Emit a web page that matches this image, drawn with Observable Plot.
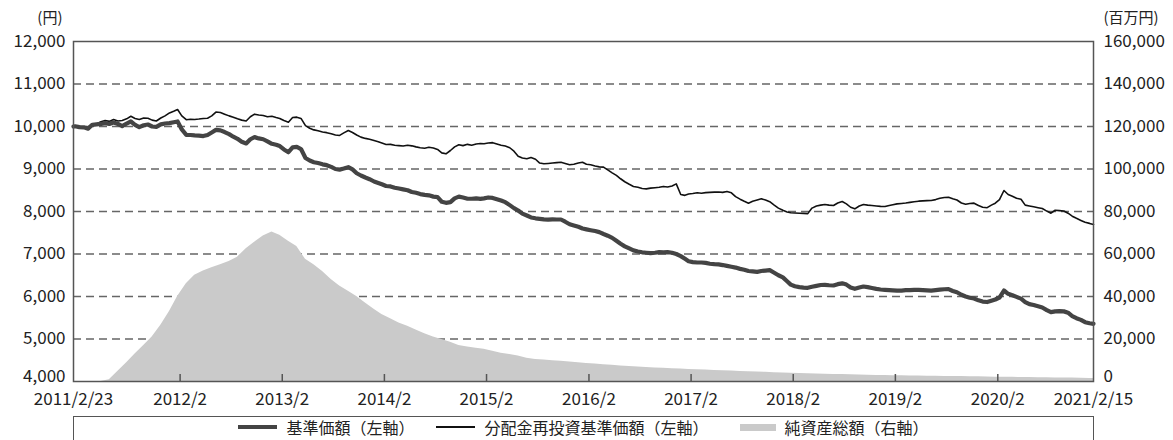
<!DOCTYPE html>
<html><head><meta charset="utf-8">
<script src="https://cdn.jsdelivr.net/npm/d3@7"></script>
<script src="https://cdn.jsdelivr.net/npm/@observablehq/plot@0.6"></script>
<style>
body{margin:0;background:#fff;font-family:"Noto Sans CJK JP","Noto Sans",sans-serif;overflow:hidden;}
#wrap{position:relative;width:1173px;height:440px;}
#wrap svg{position:absolute;left:0;top:0;}
#legend{position:absolute;left:73px;top:416px;width:1021px;height:30px;border:1.5px solid #555;box-sizing:border-box;display:flex;justify-content:center;align-items:flex-start;padding-top:2px;font-size:16px;line-height:16px;color:#222;}
#legend .it{display:flex;align-items:center;white-space:nowrap;}
#legend .sw{display:inline-block;margin-right:9px;}
</style>
</head><body>
<div id="wrap"></div>
<script>
// ---- data ----
const lineDates = [
"2011-02-23",
"2011-03-01","2011-03-16","2011-04-01","2011-04-16","2011-05-01","2011-05-16","2011-06-01","2011-06-16","2011-07-01","2011-07-16","2011-08-01","2011-08-16","2011-09-01","2011-09-16","2011-10-01","2011-10-16","2011-11-01","2011-11-16","2011-12-01","2011-12-16",
"2012-01-01","2012-01-16","2012-02-01","2012-02-16","2012-03-01","2012-03-16","2012-04-01","2012-04-16","2012-05-01","2012-05-16","2012-06-01","2012-06-16","2012-07-01","2012-07-16","2012-08-01","2012-08-16","2012-09-01","2012-09-16","2012-10-01","2012-10-16","2012-11-01","2012-11-16","2012-12-01","2012-12-16",
"2013-01-01","2013-01-16","2013-02-01","2013-02-16","2013-03-01","2013-03-16","2013-04-01","2013-04-16","2013-05-01","2013-05-16","2013-06-01","2013-06-16","2013-07-01","2013-07-16","2013-08-01","2013-08-16","2013-09-01","2013-09-16","2013-10-01","2013-10-16","2013-11-01","2013-11-16","2013-12-01","2013-12-16",
"2014-01-01","2014-01-16","2014-02-01","2014-02-16","2014-03-01","2014-03-16","2014-04-01","2014-04-16","2014-05-01","2014-05-16","2014-06-01","2014-06-16","2014-07-01","2014-07-16","2014-08-01","2014-08-16","2014-09-01","2014-09-16","2014-10-01","2014-10-16","2014-11-01","2014-11-16","2014-12-01","2014-12-16",
"2015-01-01","2015-01-16","2015-02-01","2015-02-16","2015-03-01","2015-03-16","2015-04-01","2015-04-16","2015-05-01","2015-05-16","2015-06-01","2015-06-16","2015-07-01","2015-07-16","2015-08-01","2015-08-16","2015-09-01","2015-09-16","2015-10-01","2015-10-16","2015-11-01","2015-11-16","2015-12-01","2015-12-16",
"2016-01-01","2016-01-16","2016-02-01","2016-02-16","2016-03-01","2016-03-16","2016-04-01","2016-04-16","2016-05-01","2016-05-16","2016-06-01","2016-06-16","2016-07-01","2016-07-16","2016-08-01","2016-08-16","2016-09-01","2016-09-16","2016-10-01","2016-10-16","2016-11-01","2016-11-16","2016-12-01","2016-12-16",
"2017-01-01","2017-01-16","2017-02-01","2017-02-16","2017-03-01","2017-03-16","2017-04-01","2017-04-16","2017-05-01","2017-05-16","2017-06-01","2017-06-16","2017-07-01","2017-07-16","2017-08-01","2017-08-16","2017-09-01","2017-09-16","2017-10-01","2017-10-16","2017-11-01","2017-11-16","2017-12-01","2017-12-16",
"2018-01-01","2018-01-16","2018-02-01","2018-02-16","2018-03-01","2018-03-16","2018-04-01","2018-04-16","2018-05-01","2018-05-16","2018-06-01","2018-06-16","2018-07-01","2018-07-16","2018-08-01","2018-08-16","2018-09-01","2018-09-16","2018-10-01","2018-10-16","2018-11-01","2018-11-16","2018-12-01","2018-12-16",
"2019-01-01","2019-01-16","2019-02-01","2019-02-16","2019-03-01","2019-03-16","2019-04-01","2019-04-16","2019-05-01","2019-05-16","2019-06-01","2019-06-16","2019-07-01","2019-07-16","2019-08-01","2019-08-16","2019-09-01","2019-09-16","2019-10-01","2019-10-16","2019-11-01","2019-11-16","2019-12-01","2019-12-16",
"2020-01-01","2020-01-16","2020-02-01","2020-02-16","2020-03-01","2020-03-16","2020-04-01","2020-04-16","2020-05-01","2020-05-16","2020-06-01","2020-06-16","2020-07-01","2020-07-16","2020-08-01","2020-08-16","2020-09-01","2020-09-16","2020-10-01","2020-10-16","2020-11-01","2020-11-16","2020-12-01","2020-12-16",
"2021-01-01","2021-01-16","2021-02-01","2021-02-15"
];
// 基準価額（円）
const navBase = [
10000, 10005,9985, 9980,9950, 10040,10050, 10060,10080, 10060,10095, 10060,10010, 10070,10118, 10040,9985, 10030,10047, 10000,9990,
10050,10070, 10080,10100, 10118,9930, 9805,9800, 9790,9785, 9775,9800, 9860,9920, 9910,9870, 9820,9760, 9710,9640, 9600,9700, 9750,9720,
9700,9650, 9593,9570, 9540,9460, 9395,9510, 9520,9470, 9260,9200, 9160,9140, 9110,9090, 9050,9000, 8985,9010, 9043,8990, 8900,8847,
8800,8760, 8706,8670, 8640,8600, 8590,8560, 8540,8520, 8500,8460, 8440,8410, 8392,8380, 8350,8337, 8230,8204, 8220,8310, 8350,8330,
8300,8300, 8310,8298, 8310,8330, 8320,8290, 8258,8220, 8150,8080, 8023,7950, 7906,7860, 7840,7828, 7815,7810, 7815,7812, 7812,7760,
7700,7671, 7640,7600, 7580,7560, 7540,7514, 7470,7430, 7380,7310, 7240,7180, 7130,7085, 7060,7040, 7030,7020, 7030,7045, 7040,7043,
7030,7000, 6950,6887, 6830,6810, 6800,6800, 6790,6770, 6760,6755, 6740,6720, 6700,6680, 6650,6630, 6600,6590, 6580,6600, 6610,6620,
6560,6500, 6450,6360, 6280,6240, 6220,6210, 6205,6230, 6250,6270, 6275,6265, 6259,6290, 6310,6280, 6210,6180, 6210,6235, 6220,6200,
6180,6165, 6157,6150, 6145,6140, 6140,6150, 6150,6155, 6157,6150, 6145,6140, 6150,6160, 6170,6172, 6130,6100, 6040,6000, 5970,5953,
5910,5880, 5870,5900, 5930,5976, 6141,6063, 6030,5990, 5950,5870, 5820,5800, 5770,5740, 5680,5631, 5650,5655, 5650,5620, 5540,5490,
5450,5396, 5370,5357
];
// 分配金再投資基準価額（円）
const navReinvest = [
10000, 10010,9990, 9985,9960, 10050,10060, 10110,10140, 10120,10165, 10130,10140, 10180,10240, 10190,10165, 10200,10195, 10150,10130,
10200,10250, 10320,10360, 10400,10250, 10160,10170, 10165,10175, 10190,10195, 10250,10340, 10330,10290, 10250,10220, 10180,10150, 10130,10230, 10290,10270,
10260,10230, 10240,10210, 10190,10140, 10100,10210, 10220,10190, 10020,9960, 9920,9900, 9870,9855, 9830,9800, 9790,9850, 9905,9860, 9800,9750,
9720,9700, 9670,9640, 9610,9575, 9580,9560, 9550,9540, 9560,9545, 9520,9500, 9490,9510, 9495,9460, 9380,9357, 9435,9520, 9570,9550,
9580,9560, 9590,9600, 9593,9610, 9620,9590, 9560,9540, 9500,9420, 9300,9260, 9240,9270, 9230,9140, 9122,9130, 9140,9150, 9160,9130,
9100,9110, 9140,9160, 9110,9100, 9070,9050, 9043,8980, 8910,8850, 8770,8700, 8640,8590, 8570,8540, 8533,8550, 8560,8570, 8590,8575,
8600,8650, 8400,8380, 8410,8423, 8440,8430, 8445,8450, 8455,8460, 8450,8470, 8440,8350, 8290,8240, 8196,8240, 8270,8298, 8270,8230,
8150,8080, 8030,7990, 7970,7965, 7960,7955, 7950,8080, 8130,8150, 8165,8150, 8140,8200, 8235,8180, 8100,8063, 8130,8165, 8150,8140,
8130,8120, 8118,8140, 8160,8180, 8190,8200, 8215,8230, 8243,8250, 8255,8258, 8280,8310, 8330,8337, 8300,8270, 8200,8170, 8190,8196,
8140,8100, 8090,8150, 8196,8280, 8494,8400, 8360,8310, 8290,8150, 8130,8110, 8090,8070, 8010,7960, 8030,8020, 8010,7960, 7890,7840,
7790,7745, 7720,7694
];
const assetDates = [
"2011-02-23","2011-03-01","2011-04-01","2011-05-01","2011-06-01","2011-07-01","2011-08-01","2011-09-01","2011-10-01","2011-11-01","2011-12-01",
"2012-01-01","2012-02-01","2012-03-01","2012-04-01","2012-05-01","2012-06-01","2012-07-01","2012-08-01","2012-09-01","2012-10-01","2012-11-01","2012-12-01",
"2013-01-01","2013-02-01","2013-03-01","2013-04-01","2013-05-01","2013-06-01","2013-07-01","2013-08-01","2013-09-01","2013-10-01","2013-11-01","2013-12-01",
"2014-01-01","2014-02-01","2014-03-01","2014-04-01","2014-05-01","2014-06-01","2014-07-01","2014-08-01","2014-09-01","2014-10-01","2014-11-01","2014-12-01",
"2015-01-01","2015-02-01","2015-03-01","2015-04-01","2015-05-01","2015-06-01","2015-07-01","2015-08-01","2015-09-01","2015-10-01","2015-11-01","2015-12-01",
"2016-01-01","2016-02-01","2016-03-01","2016-04-01","2016-05-01","2016-06-01","2016-07-01","2016-08-01","2016-09-01","2016-10-01","2016-11-01","2016-12-01",
"2017-01-01","2017-02-01","2017-03-01","2017-04-01","2017-05-01","2017-06-01","2017-07-01","2017-08-01","2017-09-01","2017-10-01","2017-11-01","2017-12-01",
"2018-01-01","2018-02-01","2018-03-01","2018-04-01","2018-05-01","2018-06-01","2018-07-01","2018-08-01","2018-09-01","2018-10-01","2018-11-01","2018-12-01",
"2019-01-01","2019-02-01","2019-03-01","2019-04-01","2019-05-01","2019-06-01","2019-07-01","2019-08-01","2019-09-01","2019-10-01","2019-11-01","2019-12-01",
"2020-01-01","2020-02-01","2020-03-01","2020-04-01","2020-05-01","2020-06-01","2020-07-01","2020-08-01","2020-09-01","2020-10-01","2020-11-01","2020-12-01",
"2021-01-01","2021-02-01","2021-02-15"
];
// 純資産総額（百万円）
const netAssets = [
0,0,0,0,0,800,4800,8800,13000,17000,21000,
26500,33000,40000,46000,50000,52000,53500,55000,56500,58500,62500,65500,
68500,70300,68800,66000,63500,57500,55000,51800,48000,45000,42500,40000,
37000,34000,31500,29500,27500,26000,24200,22500,21000,19800,18500,17000,
16200,15700,15200,14200,13300,12700,12000,10900,10400,10100,9800,9500,
9200,8800,8500,8200,7900,7600,7300,7050,6800,6600,6400,6200,
6000,5850,5700,5550,5400,5200,5050,4900,4750,4600,4450,4300,
4150,4000,3850,3750,3650,3550,3450,3350,3250,3150,3050,2950,
2850,2800,2700,2650,2600,2550,2500,2450,2400,2350,2300,2250,
2200,2100,2000,2000,1950,1900,1850,1800,1750,1700,1650,1600,
1500,1450,1400
];
const xTickDates = ["2011-02-23","2012-03-10","2013-03-10","2014-03-10","2015-03-10","2016-03-10","2017-03-10","2018-03-10","2019-03-10","2020-03-10","2021-02-15"];
const xTickLabels = ["2011/2/23","2012/2","2013/2","2014/2","2015/2","2016/2","2017/2","2018/2","2019/2","2020/2","2021/2/15"];
const leftTicks = [4000,5000,6000,7000,8000,9000,10000,11000,12000];
const rightTicks = [0,20000,40000,60000,80000,100000,120000,140000,160000];
const leftUnit = "(円)";
const rightUnit = "(百万円)";
const seriesNames = ["基準価額（左軸）","分配金再投資基準価額（左軸）","純資産総額（右軸）"];

// ---- tables ----
const rows = lineDates.map((d, i) => ({date: new Date(d), base: navBase[i], reinvest: navReinvest[i]}));
const assets = assetDates.map((d, i) => ({date: new Date(d), value: netAssets[i]}));
const tickDateObjs = xTickDates.map(d => new Date(d));
const labelOf = new Map(tickDateObjs.map((d, i) => [+d, xTickLabels[i]]));
const fmt = d3.format(",");

const FONT = '"Noto Sans CJK JP","Noto Sans",sans-serif';
const common = {
  width: 1173, height: 410,
  marginTop: 41, marginBottom: 29, marginLeft: 73, marginRight: 80,
  x: {type: "utc", domain: [tickDateObjs[0], tickDateObjs[tickDateObjs.length - 1]], axis: null}
};
const style = {background: "transparent", fontFamily: FONT, fontSize: "17px", color: "#222", overflow: "visible"};

const back = Plot.plot({
  ...common, style,
  y: {domain: [0, 160000], axis: null},
  marks: [
    Plot.gridY(rightTicks.slice(1, -1), {stroke: "#666", strokeOpacity: 1, strokeWidth: 1.3, strokeDasharray: "8,5"}),
    Plot.areaY(assets, {x: "date", y: "value", fill: "#cacaca", curve: "linear"}),
    Plot.axisY(rightTicks.slice(1), {anchor: "right", tickSize: 0, tickPadding: 10, tickFormat: fmt, label: null}),
    Plot.axisY(rightTicks.slice(0, 1), {anchor: "right", tickSize: 0, tickPadding: 10, tickFormat: fmt, label: null, dy: -5}),
    Plot.text([rightUnit], {text: d => d, frameAnchor: "top-right", textAnchor: "start", dx: 10, dy: -29, fontSize: 15})
  ]
});

const front = Plot.plot({
  ...common, style,
  y: {domain: [4000, 12000], axis: null},
  marks: [
    Plot.line(rows, {x: "date", y: "reinvest", stroke: "#111", strokeWidth: 1.6}),
    Plot.line(rows, {x: "date", y: "base", stroke: "#444", strokeWidth: 4.2}),
    Plot.frame({stroke: "#555", strokeWidth: 1.5}),
    Plot.tickX(tickDateObjs.slice(1, -1), {x: d => d, insetTop: 333, stroke: "#555", strokeWidth: 1.5}),
    Plot.axisY(leftTicks.slice(1), {anchor: "left", tickSize: 0, tickPadding: 8, tickFormat: fmt, label: null}),
    Plot.axisY(leftTicks.slice(0, 1), {anchor: "left", tickSize: 0, tickPadding: 8, tickFormat: fmt, label: null, dy: -5}),
    Plot.axisX(tickDateObjs, {anchor: "bottom", tickSize: 0, tickPadding: 11, tickFormat: d => labelOf.get(+d), label: null}),
    Plot.text([leftUnit], {text: d => d, frameAnchor: "top-left", textAnchor: "end", dx: -11, dy: -29, fontSize: 15})
  ]
});

const wrap = document.getElementById("wrap");
wrap.appendChild(back);
wrap.appendChild(front);

// legend
const legend = document.createElement("div");
legend.id = "legend";
const swatches = [
  {w: 39, h: 4.5, c: "#444"},
  {w: 39, h: 1.8, c: "#111"},
  {w: 36, h: 7, c: "#cacaca"}
];
const gaps = [0, 22, 31];
seriesNames.forEach((name, i) => {
  const it = document.createElement("span");
  it.className = "it";
  it.style.marginLeft = gaps[i] + "px";
  const sw = document.createElement("span");
  sw.className = "sw";
  sw.style.width = swatches[i].w + "px";
  sw.style.height = swatches[i].h + "px";
  sw.style.background = swatches[i].c;
  it.appendChild(sw);
  it.appendChild(document.createTextNode(name));
  legend.appendChild(it);
});
wrap.appendChild(legend);
</script>
</body></html>
